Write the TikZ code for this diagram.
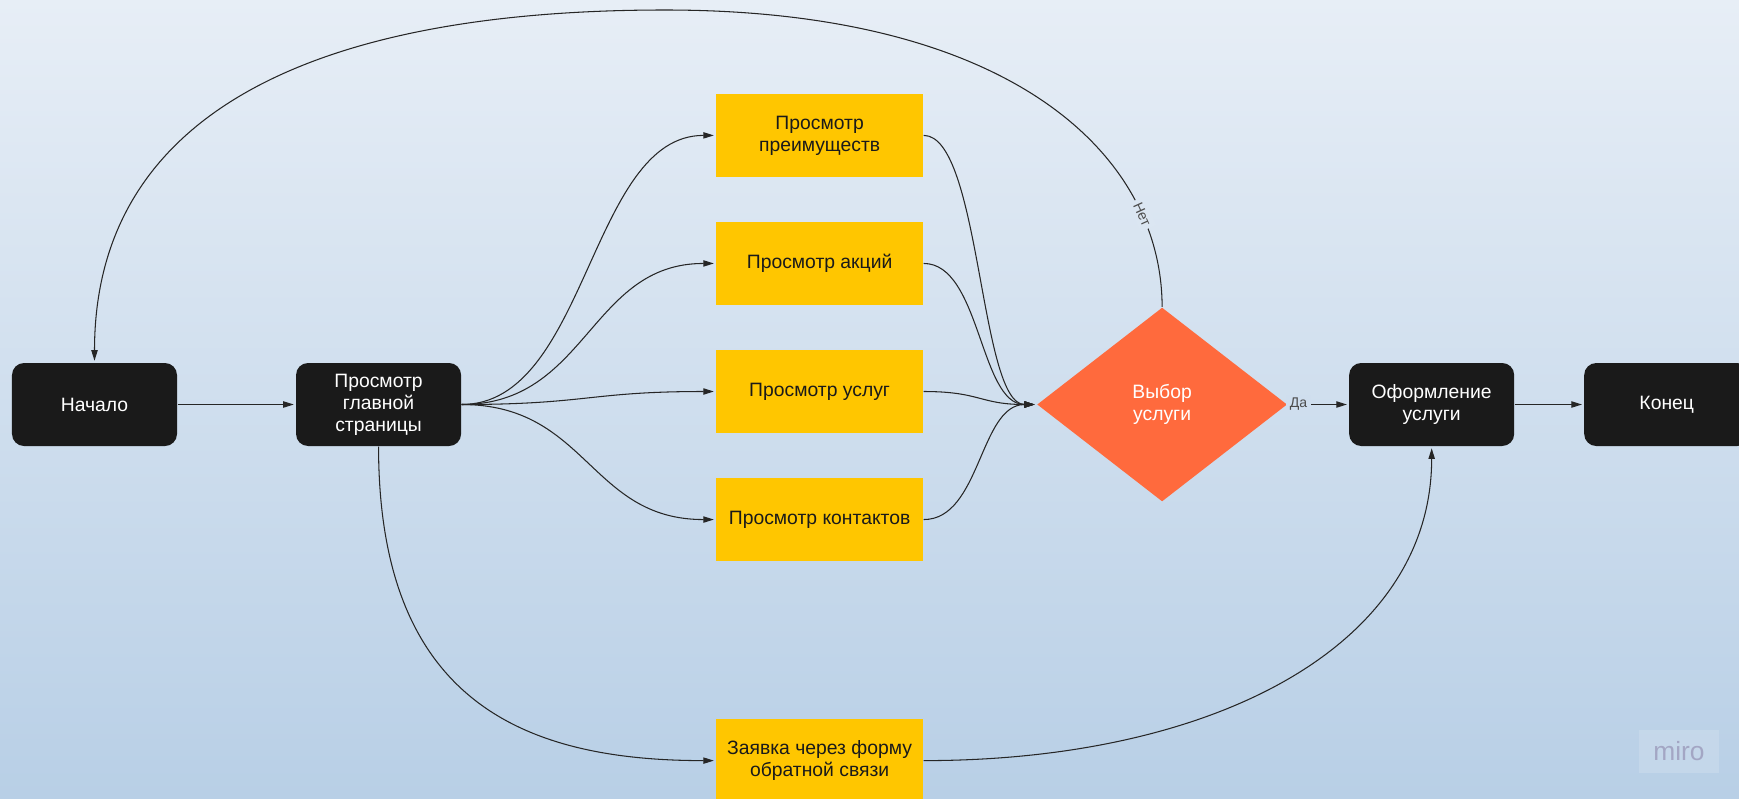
\documentclass[tikz,border=0pt]{standalone}
\usepackage{fontspec}
\setmainfont{Liberation Sans}
\usetikzlibrary{arrows.meta,positioning,shapes.geometric}

\definecolor{bgtop}{RGB}{231,238,246}
\definecolor{bgbot}{RGB}{184,207,230}
\definecolor{termblack}{RGB}{26,26,26}
\definecolor{pageyellow}{RGB}{255,198,0}
\definecolor{choiceorange}{RGB}{255,106,61}
\definecolor{logogray}{RGB}{163,166,196}

\tikzset{
	term/.style={rectangle, rounded corners=0.24cm, fill=termblack, text=white,
		minimum width=3.3cm, minimum height=1.66cm, align=center},
	page/.style={rectangle, fill=pageyellow, text=termblack,
		minimum width=4.14cm, minimum height=1.66cm, align=center},
	choice/.style={diamond, fill=choiceorange, text=white, inner sep=0pt,
		minimum width=5cm, minimum height=3.88cm, align=center},
	curve/.style={to path={.. controls +(#1,0) and +(-#1,0) .. (\tikztotarget) \tikztonodes}},
	answer/.style={font=\fontsize{8}{9.5}\selectfont, text=black!70, inner sep=2pt}
}

\begin{document}
\begin{tikzpicture}[->,>={Stealth[length=6pt,width=3.6pt,inset=0pt]},shorten >=1pt,semithick,draw=black!85,
		node distance=0.88cm, font=\fontsize{11}{12.5}\selectfont]
	\useasboundingbox (0,0) rectangle (34.78,-15.96);
	\shade[-,top color=bgtop, bottom color=bgbot] (0,0) rectangle (34.78,-15.96);

	\node[term]		(start)	at (1.89,-8.09)			{Начало};
	\node[term]		(main)	[right=2.36cm of start]		{Просмотр\\главной\\страницы};
	\node[page]		(serv)	[right=5.08cm of main, yshift=0.26cm]	{Просмотр услуг};
	\node[page]		(promo)	[above=of serv]			{Просмотр акций};
	\node[page]		(adv)	[above=of promo]		{Просмотр\\преимуществ};
	\node[page]		(cont)	[below=of serv]			{Просмотр контактов};
	\node[page]		(form)	[below=3.14cm of cont]		{Заявка через форму\\обратной связи};
	\node[choice]	(choice)	[right=11.5cm of main]		{Выбор\\услуги};
	\node[term]		(order)	[right=1.22cm of choice]	{Оформление\\услуги};
	\node[term]		(stop)	[right=1.38cm of order]		{Конец};
	\coordinate		(apex)	at (13.3,-0.2);

	\path (start)		edge				(main)
		(main.east)	edge	[curve=2.52]		(adv.west)
		(main.east)	edge	[curve=2.52]		(promo.west)
		(main.east)	edge	[curve=2.52]		(serv.west)
		(main.east)	edge	[curve=2.52]		(cont.west)
		(adv.east)	edge	[curve=1.14]		(choice.west)
		(promo.east)	edge	[curve=1.14]		(choice.west)
		(serv.east)	edge	[curve=1.14]		(choice.west)
		(cont.east)	edge	[curve=1.14]		(choice.west)
		(choice.east)	edge	node[answer, pos=0.18, fill=bgbot!51!bgtop] {Да}	(order.west)
		(order)		edge				(stop);

	\draw (main.south) .. controls +(0,-5.08) and +(-3.86,0) .. (form.west);
	\draw (form.east) .. controls +(5.8,0) and +(0,-4) .. (order.south);
	\draw (choice.north) .. controls +(0,3) and +(7,0) .. (apex)
		node[answer, pos=0.21, sloped, fill=bgbot!26!bgtop] {Нет}
		.. controls +(-7,0) and +(0,5) .. (start.north);

	\node[fill=white, fill opacity=0.15, text opacity=1, text=logogray,
		minimum width=1.6cm, minimum height=0.86cm, font=\fontsize{15}{16}\selectfont]
		(logo) at (33.58,-15.03) {miro};
\end{tikzpicture}
\end{document}
